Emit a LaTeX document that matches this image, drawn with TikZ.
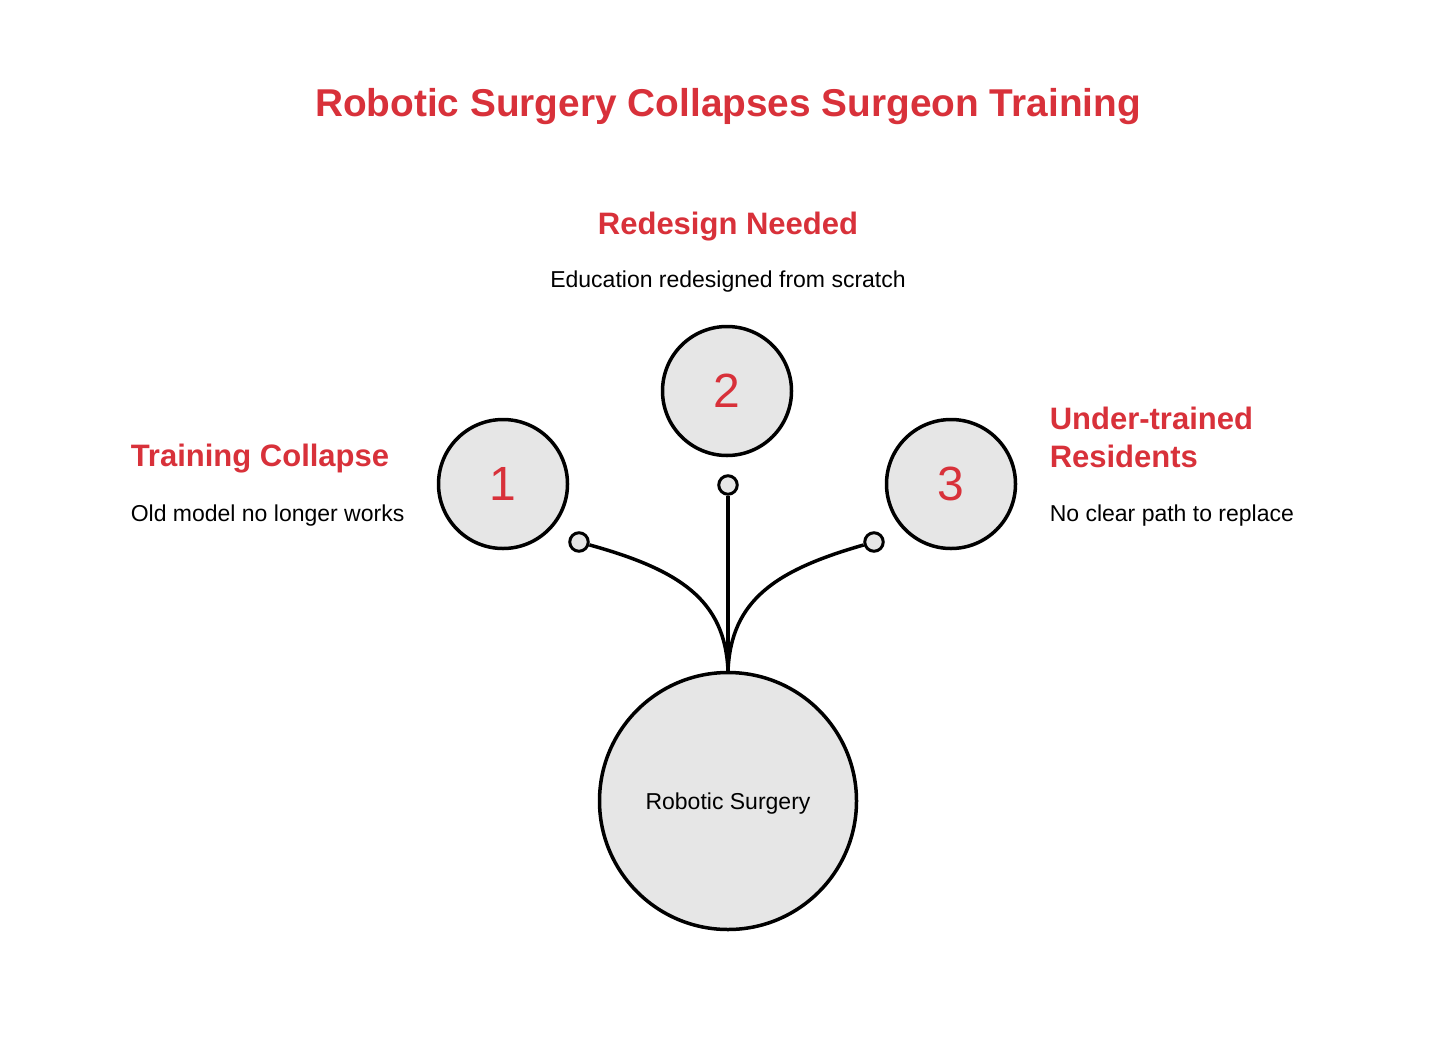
\documentclass[tikz,border=0pt]{standalone}
\usepackage{fontspec}
\setmainfont{Liberation Sans}
\usetikzlibrary{positioning}
\definecolor{titlered}{HTML}{D8313A}
\definecolor{circlegray}{HTML}{E6E6E6}

\begin{document}
\begin{tikzpicture}[
    x=1pt, y=-1pt,          % 画像のピクセル座標をそのまま使う
    line width=3.5pt,
    num_circle/.style={circle, draw=black, fill=circlegray, minimum size=129pt, inner sep=0pt,
                       text=titlered, font=\fontsize{48}{48}\selectfont},
    hub_circle/.style={circle, draw=black, fill=circlegray, minimum size=257pt, inner sep=0pt,
                       text depth=0pt, font=\fontsize{23}{28}\selectfont},
    end_dot/.style={circle, draw=black, fill=circlegray, line width=3pt, minimum size=18.5pt, inner sep=0pt},
    head_text/.style={text=titlered, font=\fontsize{31}{38}\selectfont\bfseries, inner sep=0pt},
    desc_text/.style={font=\fontsize{23}{28}\selectfont, inner sep=0pt}
]
    \useasboundingbox (0,0) rectangle (1456,1044);

    % --- 1. タイトル ---
    \node [text=titlered, font=\fontsize{38.8}{46}\selectfont\bfseries, anchor=base, inner sep=0pt]
        (title) at (728,116) {Robotic Surgery Collapses Surgeon Training};

    % --- 2. 番号付きの円と中心の円 ---
    \node [num_circle] (c1) at (503,484) {1};
    \node [num_circle] (c2) at (727,391) {2};
    \node [num_circle] (c3) at (951,484) {3};
    \node [hub_circle] (hub) at (728,801) {Robotic Surgery};

    % --- 3. 接続線の端の小さな丸 ---
    \node [end_dot] (d1) at (579,542) {};
    \node [end_dot] (d2) at (728,485) {};
    \node [end_dot] (d3) at (874,542) {};

    % 中心の円の上端から三方向へ
    \draw (hub.north) .. controls (725,600) and (680,570) .. (d1);
    \draw (hub.north) -- (d2);
    \draw (hub.north) .. controls (731,600) and (776,570) .. (d3);

    % --- 4. 見出しと説明文 ---
    \node [head_text, anchor=base] (head2) at (728,234) {Redesign Needed};
    \node [desc_text, anchor=base] (desc2) at (728,287) {Education redesigned from scratch};

    \node [head_text, anchor=base west] (head1) at (129,466) {Training Collapse};
    \node [desc_text, anchor=base west] (desc1) at (129,521) {Old model no longer works};

    % 右側の見出しは二行
    \node [head_text, anchor=base west] (head3) at (1048,429) {Under-trained};
    \node [head_text, anchor=base west] (head3b) at (1048,467) {Residents};
    \node [desc_text, anchor=base west] (desc3) at (1048,521) {No clear path to replace};

\end{tikzpicture}
\end{document}
